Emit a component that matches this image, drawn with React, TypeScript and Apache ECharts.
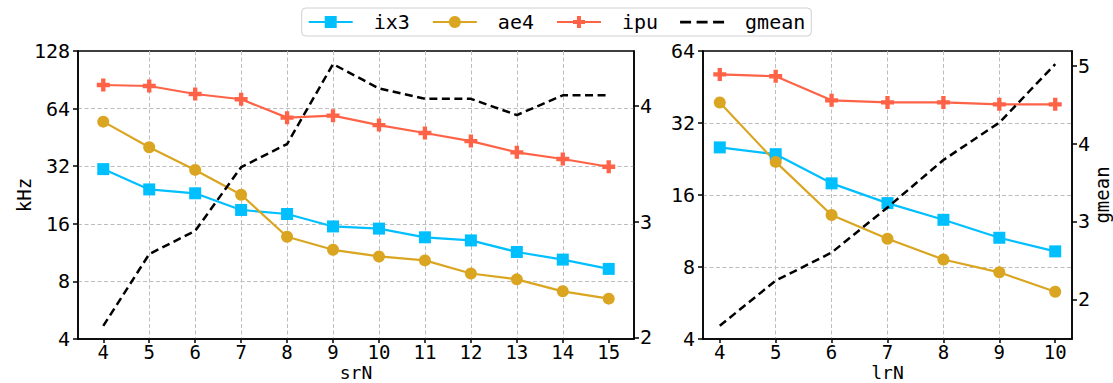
import React, { useEffect, useRef } from "react";
import * as echarts from "echarts";

// ---- data ----
const xLeft = [4, 5, 6, 7, 8, 9, 10, 11, 12, 13, 14, 15];
const ix3Left = [30.9, 24.2, 23.1, 18.9, 18.0, 15.5, 15.1, 13.6, 13.1, 11.4, 10.4, 9.3];
const ae4Left = [54.7, 40.2, 30.6, 22.7, 13.7, 11.7, 10.8, 10.3, 8.8, 8.2, 7.1, 6.5];
const ipuLeft = [85, 84, 76.3, 71.6, 57.4, 58.8, 52.5, 47.7, 43.3, 37.8, 34.9, 31.8];
const gmeanLeft = [2.1, 2.72, 2.92, 3.47, 3.67, 4.36, 4.15, 4.06, 4.06, 3.92, 4.09, 4.09];

const xRight = [4, 5, 6, 7, 8, 9, 10];
const ix3Right = [25.3, 23.7, 17.9, 14.8, 12.6, 10.6, 9.3];
const ae4Right = [39.0, 22.0, 13.2, 10.5, 8.6, 7.6, 6.3];
const ipuRight = [51.1, 50.2, 39.8, 39.0, 39.0, 38.3, 38.3];
const gmeanRight = [1.66, 2.24, 2.6, 3.18, 3.79, 4.27, 5.02];

const gmeanTicksLeft = [2, 3, 4];
const gmeanTicksRight = [2, 3, 4, 5];

const FONT = "DejaVu Sans Mono";
const C_IX3 = "#00BFFF";
const C_AE4 = "#DAA520";
const C_IPU = "#FF6347";
const C_GM = "#000000";
const PLUS = "path://M3,0h3v3h3v3h-3v3h-3v-3h-3v-3h3z";
const DASH_ICON = "path://M0,0h10v2.5h-10z M15,0h10v2.5h-10z M30,0h10v2.5h-10z";

const pairs = (xs: number[], ys: number[]) => xs.map((x, i) => [x, ys[i]]);

const axisLineStyle = { color: "#000", width: 1.5 };
const gridLine = {
  show: true,
  showMinLine: false,
  showMaxLine: false,
  lineStyle: { color: "#bdbdbd", width: 1, type: [4, 2.5] as any },
};
const labelStyle = { color: "#000", fontSize: 20, fontFamily: FONT };
const nameStyle = { color: "#000", fontSize: 19, fontFamily: FONT };

function xAxis(gridIndex: number, min: number, max: number, ticks: number[], name: string) {
  return {
    gridIndex,
    type: "value",
    min,
    max,
    name,
    nameLocation: "middle",
    nameGap: 24,
    nameMoveOverlap: false,
    nameTextStyle: { ...nameStyle, fontSize: 18 },
    axisLine: { show: true, onZero: false, lineStyle: axisLineStyle },
    axisTick: { show: true, length: 4, customValues: ticks, lineStyle: axisLineStyle },
    axisLabel: { ...labelStyle, fontSize: 19, margin: 3, customValues: ticks },
    splitLine: gridLine,
  };
}

function logAxis(gridIndex: number, max: number, name?: string) {
  return {
    gridIndex,
    type: "log",
    logBase: 2,
    min: 4,
    max,
    position: "left",
    name: name || "",
    nameLocation: "middle",
    nameRotate: 90,
    nameGap: 45,
    nameMoveOverlap: false,
    nameTextStyle: { ...nameStyle },
    axisLine: { show: true, onZero: false, lineStyle: axisLineStyle },
    axisTick: { show: true, length: 5, lineStyle: axisLineStyle },
    axisLabel: { ...labelStyle, margin: 8 },
    splitLine: gridLine,
    minorTick: { show: false },
  };
}

function gmAxis(gridIndex: number, min: number, max: number, ticks: number[], name?: string) {
  return {
    gridIndex,
    type: "value",
    min,
    max,
    position: "right",
    name: name || "",
    nameLocation: "middle",
    nameRotate: 90,
    nameGap: 20,
    nameMoveOverlap: false,
    nameTextStyle: { ...nameStyle },
    axisLine: { show: true, onZero: false, lineStyle: axisLineStyle },
    axisTick: { show: true, length: 5, customValues: ticks, lineStyle: axisLineStyle },
    axisLabel: { ...labelStyle, margin: 6, customValues: ticks },
    splitLine: { show: false },
  };
}

function lineSeries(name: string, color: string, symbol: string, size: number, x: number, y: number, data: number[][]) {
  return {
    name,
    type: "line",
    xAxisIndex: x,
    yAxisIndex: y,
    data,
    symbol,
    symbolSize: size,
    showSymbol: true,
    lineStyle: { color, width: 2.2 },
    itemStyle: { color },
    z: 3,
  };
}

function gmSeries(x: number, y: number, data: number[][]) {
  return {
    name: "gmean",
    type: "line",
    xAxisIndex: x,
    yAxisIndex: y,
    data,
    symbol: "none",
    lineStyle: { color: C_GM, width: 2.5, type: [8, 4.5] },
    itemStyle: { color: C_GM },
    z: 4,
  };
}

const gridBase = {
  top: 51,
  height: 288,
  show: true,
  borderColor: "#000",
  borderWidth: 1.5,
  backgroundColor: "transparent",
  containLabel: false,
  outerBoundsMode: "none",
};

export default function App() {
  const ref = useRef<HTMLDivElement>(null);
  useEffect(() => {
    if (!ref.current) return;
    const chart = echarts.init(ref.current, undefined, { renderer: "svg" });
    chart.setOption({
      animation: false,
      backgroundColor: "#fff",
      legend: {
        top: 8,
        left: "center",
        padding: [4, 6],
        itemGap: 22,
        itemWidth: 44,
        itemHeight: 15,
        borderColor: "#d0d0d0",
        borderWidth: 1,
        borderRadius: 4,
        backgroundColor: "#fff",
        textStyle: { ...labelStyle, padding: [0, 0, 0, 16] },
        data: [
          { name: "ix3" },
          { name: "ae4" },
          { name: "ipu" },
          { name: "gmean", icon: DASH_ICON },
        ],
      },
      grid: [
        { ...gridBase, left: 78, width: 556 },
        { ...gridBase, left: 703, width: 369 },
      ],
      xAxis: [
        xAxis(0, 3.45, 15.55, xLeft, "srN"),
        xAxis(1, 3.7, 10.3, xRight, "lrN"),
      ],
      yAxis: [
        logAxis(0, 128, "kHz"),
        gmAxis(0, 1.987, 4.473, gmeanTicksLeft),
        logAxis(1, 64),
        gmAxis(1, 1.49, 5.19, gmeanTicksRight, "gmean"),
      ],
      series: [
        lineSeries("ix3", C_IX3, "rect", 12, 0, 0, pairs(xLeft, ix3Left)),
        lineSeries("ae4", C_AE4, "circle", 12, 0, 0, pairs(xLeft, ae4Left)),
        lineSeries("ipu", C_IPU, PLUS, 13, 0, 0, pairs(xLeft, ipuLeft)),
        gmSeries(0, 1, pairs(xLeft, gmeanLeft)),
        lineSeries("ix3", C_IX3, "rect", 12, 1, 2, pairs(xRight, ix3Right)),
        lineSeries("ae4", C_AE4, "circle", 12, 1, 2, pairs(xRight, ae4Right)),
        lineSeries("ipu", C_IPU, PLUS, 13, 1, 2, pairs(xRight, ipuRight)),
        gmSeries(1, 3, pairs(xRight, gmeanRight)),
      ],
    });
    return () => chart.dispose();
  }, []);
  return (
    <div
      ref={ref}
      style={{ position: "absolute", left: 0, top: 0, width: 1113, height: 383 }}
    />
  );
}
